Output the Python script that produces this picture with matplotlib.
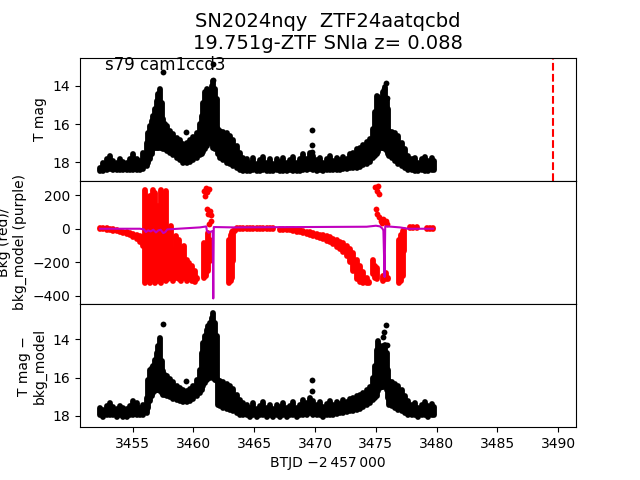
import matplotlib
matplotlib.use("Agg")
import matplotlib.pyplot as plt

# observation times (BTJD - 2457000)
btjd = [
    3452.31, 3452.59, 3452.86, 3453.13, 3453.41, 3453.68, 3453.96, 3454.23, 3454.50, 3454.78, 3455.05, 3455.33, 3455.60, 3455.87,
    3456.15, 3456.29, 3456.42, 3456.56, 3456.70, 3456.83, 3456.97, 3457.11, 3457.25, 3457.38, 3457.52, 3457.66, 3457.79,
    3458.07, 3458.34, 3458.62, 3458.89, 3459.16, 3459.44, 3459.71, 3459.99, 3460.26, 3460.53,
    3460.67, 3460.81, 3460.95, 3461.08, 3461.22, 3461.36, 3461.49, 3461.63, 3461.77, 3461.91, 3461.99,
    3462.18, 3462.45, 3462.73, 3463.00, 3463.28, 3463.55, 3463.82, 3464.10,
    3464.37, 3464.65, 3464.92, 3465.19, 3465.47, 3465.74, 3466.02, 3466.29, 3466.57, 3466.84,
    3467.11, 3467.39, 3467.66, 3467.94, 3468.21, 3468.48, 3468.76, 3469.03, 3469.31, 3469.58,
    3469.86, 3470.13, 3470.40, 3470.68, 3470.95, 3471.23, 3471.50, 3471.77, 3472.05, 3472.32,
    3472.60, 3472.87, 3473.14, 3473.42, 3473.69, 3473.97, 3474.24, 3474.52, 3474.79,
    3474.93, 3475.06, 3475.20, 3475.34, 3475.47, 3475.61, 3475.75, 3475.89, 3476.02, 3476.10,
    3476.30, 3476.57, 3476.84, 3477.12, 3477.39, 3477.67, 3477.94, 3478.22, 3478.49, 3478.76, 3479.04, 3479.31, 3479.59, 3479.78,
]

# T mag: bright and faint edge of the point cloud at each time
tmag_bright = [
    18.29, 18.02, 17.85, 17.67, 17.94, 18.02, 17.85, 17.99, 18.02, 17.85, 17.59, 17.81, 17.94, 17.50,
    16.97, 16.45, 16.09, 15.83, 15.57, 15.22, 14.78, 14.43, 14.17, 14.87, 15.74, 16.01, 16.09,
    16.36, 16.53, 16.71, 16.83, 17.06, 17.01, 16.83, 16.66, 16.45, 16.01,
    15.57, 14.87, 14.34, 14.17, 14.25, 14.34, 13.99, 13.73, 14.17, 14.69, 16.27,
    16.36, 16.41, 16.48, 16.62, 16.83, 17.15, 17.50, 17.76,
    17.85, 18.02, 17.76, 18.11, 17.88, 17.71, 18.02, 17.81, 18.11, 17.85,
    17.99, 17.76, 18.06, 17.88, 17.71, 18.02, 17.85, 17.59, 17.81, 17.50,
    17.67, 17.88, 17.76, 18.02, 17.81, 17.67, 17.94, 17.76, 17.88, 17.71,
    17.81, 17.59, 17.50, 17.32, 17.24, 17.11, 16.94, 16.76, 16.27,
    15.39, 14.52, 14.60, 14.69, 15.04, 14.34, 14.08, 14.69, 15.22, 16.36,
    16.41, 16.48, 16.62, 16.97, 17.32, 17.67, 17.85, 17.76, 18.02, 17.85, 17.71, 17.94, 17.76, 17.94,
]
tmag_faint = [
    18.47, 18.47, 18.43, 18.38, 18.43, 18.43, 18.43, 18.43, 18.43, 18.43, 18.40, 18.43, 18.43, 18.38,
    18.20, 18.03, 17.85, 17.59, 17.33, 17.24, 17.24, 17.24, 17.24, 17.24, 17.33, 17.33, 17.41,
    17.50, 17.62, 17.76, 17.90, 18.03, 18.03, 17.97, 17.90, 17.76, 17.62,
    17.55, 17.45, 17.33, 17.15, 16.98, 16.80, 17.06, 17.24, 17.33, 17.24, 17.59,
    17.76, 17.90, 18.03, 18.12, 18.20, 18.33, 18.43, 18.47,
    18.47, 18.47, 18.43, 18.47, 18.47, 18.43, 18.47, 18.47, 18.47, 18.43,
    18.47, 18.47, 18.47, 18.43, 18.47, 18.47, 18.47, 18.43, 18.43, 18.38,
    18.43, 18.47, 18.43, 18.47, 18.43, 18.43, 18.43, 18.40, 18.40, 18.38,
    18.38, 18.33, 18.33, 18.29, 18.26, 18.15, 18.08, 17.97, 17.76,
    17.68, 17.59, 17.45, 17.24, 17.24, 17.24, 17.33, 17.41, 17.55, 17.68,
    17.80, 17.94, 18.08, 18.20, 18.33, 18.40, 18.43, 18.47, 18.47, 18.43, 18.47, 18.47, 18.43, 18.43,
]

# T mag - bkg_model
diff_bright = [
    17.60, 17.69, 17.52, 17.34, 17.55, 17.65, 17.48, 17.60, 17.65, 17.48, 17.25, 17.34, 17.60, 17.43,
    17.08, 16.11, 15.58, 15.50, 15.41, 15.06, 14.71, 14.36, 13.92, 15.15, 15.67, 15.85, 15.93,
    16.08, 16.25, 16.43, 16.55, 16.67, 16.72, 16.60, 16.43, 16.15, 15.58,
    14.71, 14.18, 13.83, 13.48, 13.31, 13.13, 12.86, 12.60, 13.13, 13.83, 16.15,
    16.20, 16.25, 16.32, 16.43, 16.60, 16.90, 17.16, 17.34,
    17.43, 17.60, 17.34, 17.65, 17.48, 17.30, 17.60, 17.43, 17.65, 17.43,
    17.55, 17.34, 17.60, 17.48, 17.30, 17.60, 17.43, 17.20, 17.34, 17.08,
    17.25, 17.43, 17.30, 17.55, 17.38, 17.25, 17.43, 17.30, 17.38, 17.20,
    17.30, 17.13, 17.08, 16.99, 16.90, 16.81, 16.67, 16.50, 16.02,
    15.41, 14.53, 14.09, 14.36, 14.79, 14.36, 14.27, 14.71, 15.58, 16.20,
    16.25, 16.32, 16.43, 16.67, 16.99, 17.25, 17.43, 17.34, 17.60, 17.43, 17.30, 17.52, 17.38, 17.55,
]
diff_faint = [
    17.99, 18.05, 17.99, 17.96, 17.99, 18.05, 17.99, 18.05, 18.05, 17.99, 17.96, 17.96, 17.99, 17.99,
    17.87, 17.61, 17.26, 16.99, 16.82, 16.69, 16.64, 16.64, 16.69, 16.82, 16.90, 16.94, 16.99,
    17.04, 17.12, 17.19, 17.26, 17.29, 17.29, 17.22, 17.12, 16.99, 16.82,
    16.64, 16.46, 16.29, 16.11, 16.03, 16.03, 15.99, 16.03, 16.11, 16.20, 17.46,
    17.52, 17.61, 17.66, 17.71, 17.78, 17.87, 17.96, 17.99,
    17.99, 18.05, 17.99, 18.05, 17.99, 17.96, 18.05, 17.99, 18.05, 17.99,
    18.05, 17.99, 18.05, 17.99, 17.99, 18.05, 17.99, 17.96, 17.96, 17.87,
    17.96, 17.99, 17.99, 18.05, 17.99, 17.96, 17.96, 17.92, 17.89, 17.87,
    17.82, 17.78, 17.75, 17.69, 17.64, 17.57, 17.46, 17.34, 17.17,
    17.08, 16.99, 16.73, 16.55, 16.52, 16.52, 16.41, 16.64, 17.08, 17.43,
    17.52, 17.61, 17.69, 17.78, 17.87, 17.96, 17.99, 17.99, 18.05, 17.99, 17.96, 18.05, 17.99, 17.99,
]

# single points standing apart from the cloud
tmag_out_t = [3457.46, 3461.62, 3461.58, 3459.38, 3469.72, 3469.72, 3469.75, 3475.83, 3475.67, 3475.94]
tmag_out = [13.25, 12.85, 13.68, 16.40, 16.32, 17.10, 17.46, 13.86, 14.18, 14.65]
diff_out_t = [3457.52, 3459.38, 3469.77, 3469.77, 3475.83, 3475.67, 3475.56, 3475.94]
diff_out = [13.18, 16.21, 16.11, 16.72, 13.26, 13.61, 13.88, 14.31]

# background flux: upper and lower edge of the red cloud
bkg_t = [
    3452.31, 3452.58, 3452.86, 3453.13, 3453.41, 3453.68, 3453.96, 3454.23, 3454.50, 3454.78, 3455.05, 3455.33, 3455.60, 3455.82,
    3456.01, 3456.20, 3456.42, 3456.64, 3456.86, 3457.08, 3457.30, 3457.52, 3457.71, 3457.93, 3458.12,
    3458.34, 3458.56, 3458.78, 3459.00, 3459.22, 3459.44, 3459.66, 3459.88, 3460.10, 3460.32,
    3460.86, 3461.03, 3461.19, 3461.36,
    3462.95, 3463.06, 3463.17, 3463.28, 3463.39,
    3463.55, 3463.82, 3464.10, 3464.37, 3464.65, 3464.92, 3465.19, 3465.47, 3465.74, 3466.02,
    3466.29, 3466.57, 3466.84, 3467.11, 3467.39, 3467.66, 3467.94, 3468.21, 3468.48, 3468.76,
    3469.03, 3469.31, 3469.58, 3469.86, 3470.13, 3470.40, 3470.68, 3470.95, 3471.23, 3471.50,
    3471.77, 3472.05, 3472.32, 3472.60, 3472.87, 3473.14, 3473.42, 3473.69, 3473.97, 3474.24, 3474.46,
    3474.73, 3474.93, 3475.12, 3475.56, 3475.83, 3476.02,
    3476.93, 3477.06, 3477.20, 3477.34,
    3477.53, 3477.80, 3478.08, 3478.35, 3478.63, 3478.90, 3479.17, 3479.45, 3479.72,
]
bkg_hi = [
    4, 4, 3, 0, -3, -8, -14, -18, -22, -26, -32, -38, -45, -52,
    233, 153, 193, 233, 213, 134, 233, 74, 223, -25, 15,
    -124, -45, -65, -144, -104, -184, -204, -223, -253, -293,
    -85, -124, -25, -65,
    -65, -35, -21, -11, -5,
    4, 4, 4, 4, 4, 4, 3, 3, 3, 3,
    2, 2, 1, 1, 0, -1, -2, -4, -7, -10,
    -14, -18, -22, -26, -30, -35, -40, -46, -52, -60,
    -68, -77, -88, -100, -118, -145, -185, -225, -260, -295, -315,
    -184, -223, -233, -283, -263, -293,
    -65, -35, -15, -5,
    7, 8, 8, 8, 7, 7, 7, 6, 6,
]
bkg_lo = [
    -4, -4, -5, -8, -12, -15, -22, -28, -33, -40, -50, -62, -80, -100,
    -322, -312, -322, -292, -322, -312, -322, -292, -312, -302, -292,
    -312, -292, -302, -312, -292, -312, -302, -312, -316, -302,
    -292, -283, -253, -193,
    -322, -312, -292, -193, -15,
    0, 0, 0, 0, 0, 0, -1, -1, -2, -2,
    -2, -3, -4, -5, -6, -8, -10, -13, -18, -22,
    -27, -32, -38, -44, -50, -56, -64, -72, -82, -94,
    -106, -120, -136, -160, -200, -250, -300, -320, -322, -326, -326,
    -273, -292, -302, -312, -302, -300,
    -322, -312, -283, -134,
    2, 3, 3, 2, 2, 2, 1, 1, 1,
]
bkg_pts_t = [3460.86, 3460.95, 3461.03, 3461.14, 3461.25, 3461.08, 3461.22, 3461.36, 3461.46, 3461.30, 3461.41,
             3474.93, 3475.06, 3475.20, 3475.28, 3475.01, 3475.12, 3475.28, 3475.39, 3475.47, 3475.61, 3475.83, 3475.94]
bkg_pts = [228, 198, 244, 218, 238, 119, 89, 105, 79, 30, 49,
           248, 224, 252, 208, 119, 89, 69, 49, 34, 59, 45, 30]

# background model
model_t = [3452.31, 3455.60, 3455.93, 3456.09, 3456.28, 3456.48, 3456.70, 3456.92, 3457.11, 3457.30,
           3457.52, 3457.68, 3457.85, 3460.53, 3460.90, 3461.05, 3461.10, 3461.25, 3461.40, 3461.58,
           3461.63, 3461.67, 3461.79, 3463.28, 3468.76, 3474.24, 3475.01, 3475.34, 3475.53, 3475.62,
           3475.72, 3475.77, 3475.94, 3476.98, 3477.67, 3479.72]
model_val = [0, 0, -4, -20, -10, -16, -6, -22, -10, -6,
             -26, -20, -4, 8, 12, 14, -10, -24, -18, -14,
             -416, 10, 10, 8, 10, 12, 18, 14, 2, -10,
             -288, 14, 14, 8, 0, 0]

ztf_t = 3489.6

title = "SN2024nqy  ZTF24aatqcbd\n19.751g-ZTF SNIa z= 0.088"

dot = 4.2

fig, (ax1, ax2, ax3) = plt.subplots(3, 1, sharex=True, figsize=(6.4, 4.8))
fig.subplots_adjust(hspace=0)

# top: T mag
ax1.vlines(btjd, tmag_bright, tmag_faint, color="k", lw=dot, capstyle="round")
ax1.plot(tmag_out_t, tmag_out, "ko", ms=dot, mew=0)
ax1.axvline(ztf_t, color="r", ls="--", lw=1.5)
ax1.set_ylim(18.98, 12.51)
ax1.set_yticks([14, 16, 18])
ax1.set_ylabel("T mag")
ax1.set_title(title, fontsize=14)
ax1.text(0.05, 0.9, "s79 cam1ccd3", transform=ax1.transAxes, fontsize=12)

# middle: background
ax2.vlines(bkg_t, bkg_hi, bkg_lo, color="r", lw=dot, capstyle="round")
ax2.plot(bkg_pts_t, bkg_pts, "ro", ms=dot, mew=0)
ax2.plot(model_t, model_val, color="m", lw=1.5)
ax2.set_ylim(-449, 286)
ax2.set_yticks([-400, -200, 0, 200])
ax2.set_ylabel("Bkg (red)/\nbkg_model (purple)")

# bottom: T mag - bkg_model
ax3.vlines(btjd, diff_bright, diff_faint, color="k", lw=dot, capstyle="round")
ax3.plot(diff_out_t, diff_out, "ko", ms=dot, mew=0)
ax3.set_ylim(18.61, 12.14)
ax3.set_yticks([14, 16, 18])
ax3.set_ylabel("T mag \u2212\nbkg_model")

for ax in (ax1, ax2):
    ax.tick_params(axis="x", bottom=False, labelbottom=False)

ax3.set_xlim(3450.67, 3491.46)
ax3.set_xticks([3455, 3460, 3465, 3470, 3475, 3480, 3485, 3490])
ax3.set_xlabel("BTJD \u22122\u2009457\u2009000")

fig.savefig("out.png", dpi=100)
